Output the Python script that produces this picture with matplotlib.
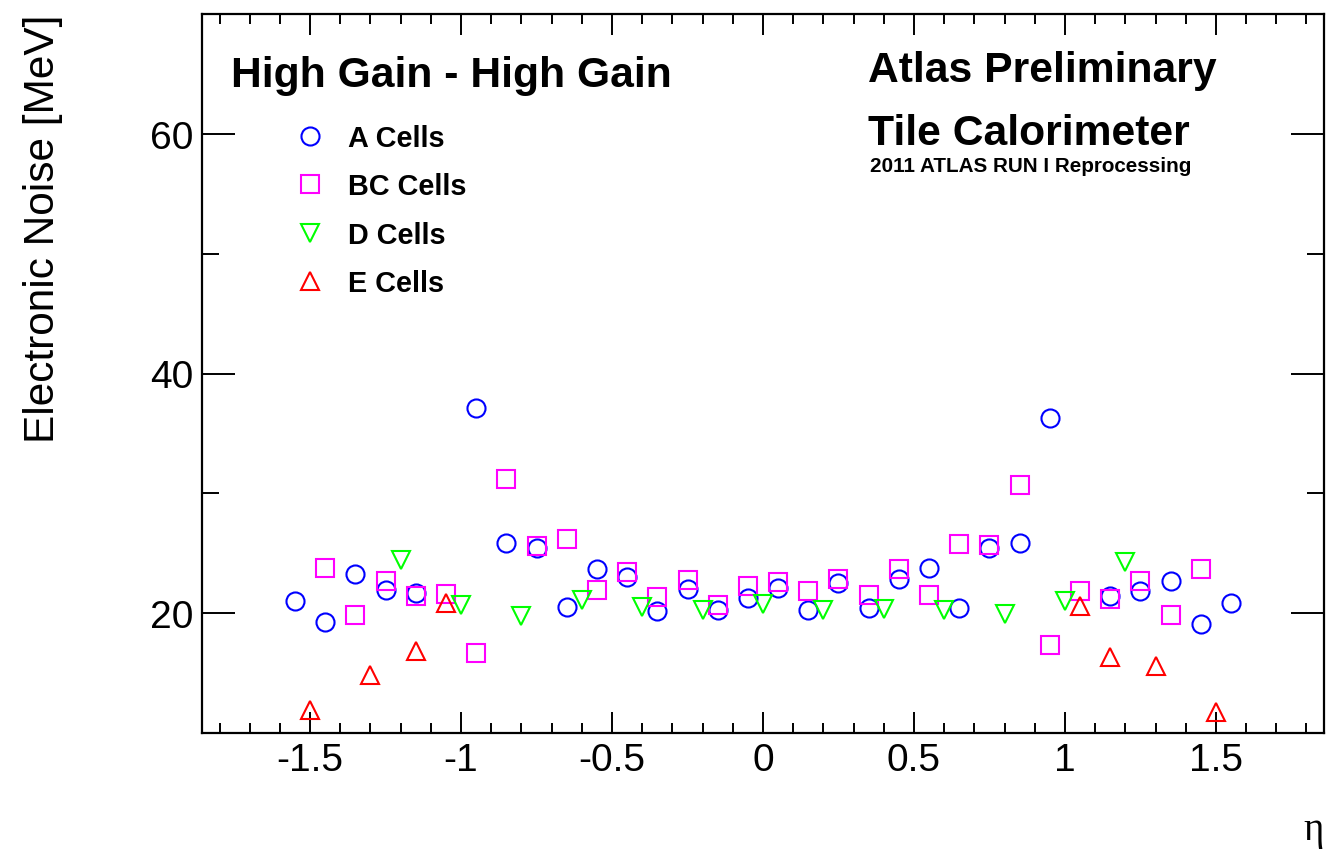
import matplotlib
matplotlib.use("Agg")
import matplotlib.pyplot as plt
from matplotlib.ticker import MultipleLocator, FuncFormatter

plt.rcParams["font.family"] = ["Liberation Sans", "DejaVu Sans"]
plt.rcParams["axes.unicode_minus"] = False

# Electronic noise per cell type versus eta
eta_a = [-1.55, -1.45, -1.35, -1.25, -1.15, -0.95, -0.85, -0.75, -0.65, -0.55,
         -0.45, -0.35, -0.25, -0.15, -0.05, 0.05, 0.15, 0.25, 0.35, 0.45,
         0.55, 0.65, 0.75, 0.85, 0.95, 1.15, 1.25, 1.35, 1.45, 1.55]
noise_a = [21.05, 19.28, 23.24, 21.96, 21.68, 37.09, 25.87, 25.45, 20.50, 23.72,
           22.99, 20.22, 22.01, 20.28, 21.26, 22.08, 20.28, 22.51, 20.42, 22.88,
           23.74, 20.45, 25.45, 25.87, 36.26, 21.40, 21.87, 22.71, 19.11, 20.84]

eta_bc = [-1.45, -1.35, -1.25, -1.15, -1.05, -0.95, -0.85, -0.75, -0.65, -0.55,
          -0.45, -0.35, -0.25, -0.15, -0.05, 0.05, 0.15, 0.25, 0.35, 0.45,
          0.55, 0.65, 0.75, 0.85, 0.95, 1.05, 1.15, 1.25, 1.35, 1.45]
noise_bc = [23.77, 19.85, 22.65, 21.42, 21.59, 16.65, 31.23, 25.59, 26.20, 21.96,
            23.41, 21.31, 22.79, 20.67, 22.29, 22.62, 21.82, 22.88, 21.54, 23.72,
            21.54, 25.78, 25.67, 30.67, 17.35, 21.82, 21.20, 22.65, 19.88, 23.65]

eta_d = [-1.2, -1.0, -0.8, -0.6, -0.4, -0.2, 0.0, 0.2, 0.4, 0.6, 0.8, 1.0, 1.2]
noise_d = [24.47, 20.64, 19.80, 21.06, 20.50, 20.28, 20.78, 20.28, 20.34, 20.28,
           19.92, 20.98, 24.25]

eta_e = [-1.5, -1.3, -1.15, -1.05, 1.05, 1.15, 1.3, 1.5]
noise_e = [11.90, 14.80, 16.87, 20.81, 20.59, 16.37, 15.61, 11.78]

series_labels = ["A Cells", "BC Cells", "D Cells", "E Cells"]

W, H = 1337, 853
fig = plt.figure(figsize=(W / 100, H / 100), dpi=100)
ax = fig.add_axes([202 / W, 1 - 734 / H, (1324 - 202) / W, (734 - 15) / H])

mk = dict(linestyle="none", markerfacecolor="none", markeredgewidth=1.5)
ax.plot(eta_a, noise_a, marker="o", markersize=13, markeredgecolor="#0000ff",
        label=series_labels[0], **mk)
ax.plot(eta_bc, noise_bc, marker="s", markersize=13, markeredgecolor="#ff00ff",
        label=series_labels[1], **mk)
ax.plot(eta_d, noise_d, marker="v", markersize=13.5, markeredgecolor="#00ff00",
        label=series_labels[2], **mk)
ax.plot(eta_e, noise_e, marker="^", markersize=13.5, markeredgecolor="#ff0000",
        label=series_labels[3], **mk)

ax.set_xlim(-1.858, 1.858)
ax.set_ylim(10, 70)

ax.xaxis.set_major_locator(MultipleLocator(0.5))
ax.xaxis.set_minor_locator(MultipleLocator(0.1))
ax.yaxis.set_major_locator(MultipleLocator(20))
ax.yaxis.set_minor_locator(MultipleLocator(10))
ax.xaxis.set_major_formatter(FuncFormatter(lambda v, p: "%g" % round(v, 2)))

for s in ax.spines.values():
    s.set_linewidth(1.6)
ax.tick_params(which="both", direction="in", top=True, right=True, width=1.4)
ax.tick_params(axis="x", which="major", length=15, labelsize=28, pad=6.5)
ax.tick_params(axis="x", which="minor", length=7.5)
ax.tick_params(axis="y", which="major", length=24, labelsize=28, pad=6)
ax.tick_params(axis="y", which="minor", length=12)

ax.set_ylabel("Electronic Noise [MeV]", fontsize=30.5, loc="top")
ax.yaxis.label.set_va("baseline")
ax.yaxis.set_label_coords((54 - 202) / (1324 - 202), 1.0)

ax.set_xlabel("η", fontsize=28, loc="right", family=["Liberation Serif", "DejaVu Serif"])
ax.xaxis.label.set_va("baseline")
ax.xaxis.set_label_coords(1.0, -(840 - 734) / (734 - 15))


def ftext(x, y, s, **kw):
    fig.text(x / W, 1 - y / H, s, va="baseline", ha="left", **kw)


ftext(231, 87, "High Gain - High Gain", fontsize=30.7, fontweight="bold")
ftext(868, 82, "Atlas Preliminary", fontsize=30.7, fontweight="bold")
ftext(868, 145, "Tile Calorimeter", fontsize=30.7, fontweight="bold")
ftext(870, 172, "2011 ATLAS RUN I Reprocessing", fontsize=14.9, fontweight="bold")

leg = ax.legend(loc="center left", bbox_to_anchor=((310 - 14.5) / W, 1 - 211.5 / H),
                bbox_transform=fig.transFigure, frameon=False, numpoints=1,
                handlelength=1.0, handletextpad=0.83, labelspacing=0.70,
                borderpad=0, borderaxespad=0,
                prop=dict(size=20.8, weight="bold"))

fig.savefig("out.png", dpi=100)
